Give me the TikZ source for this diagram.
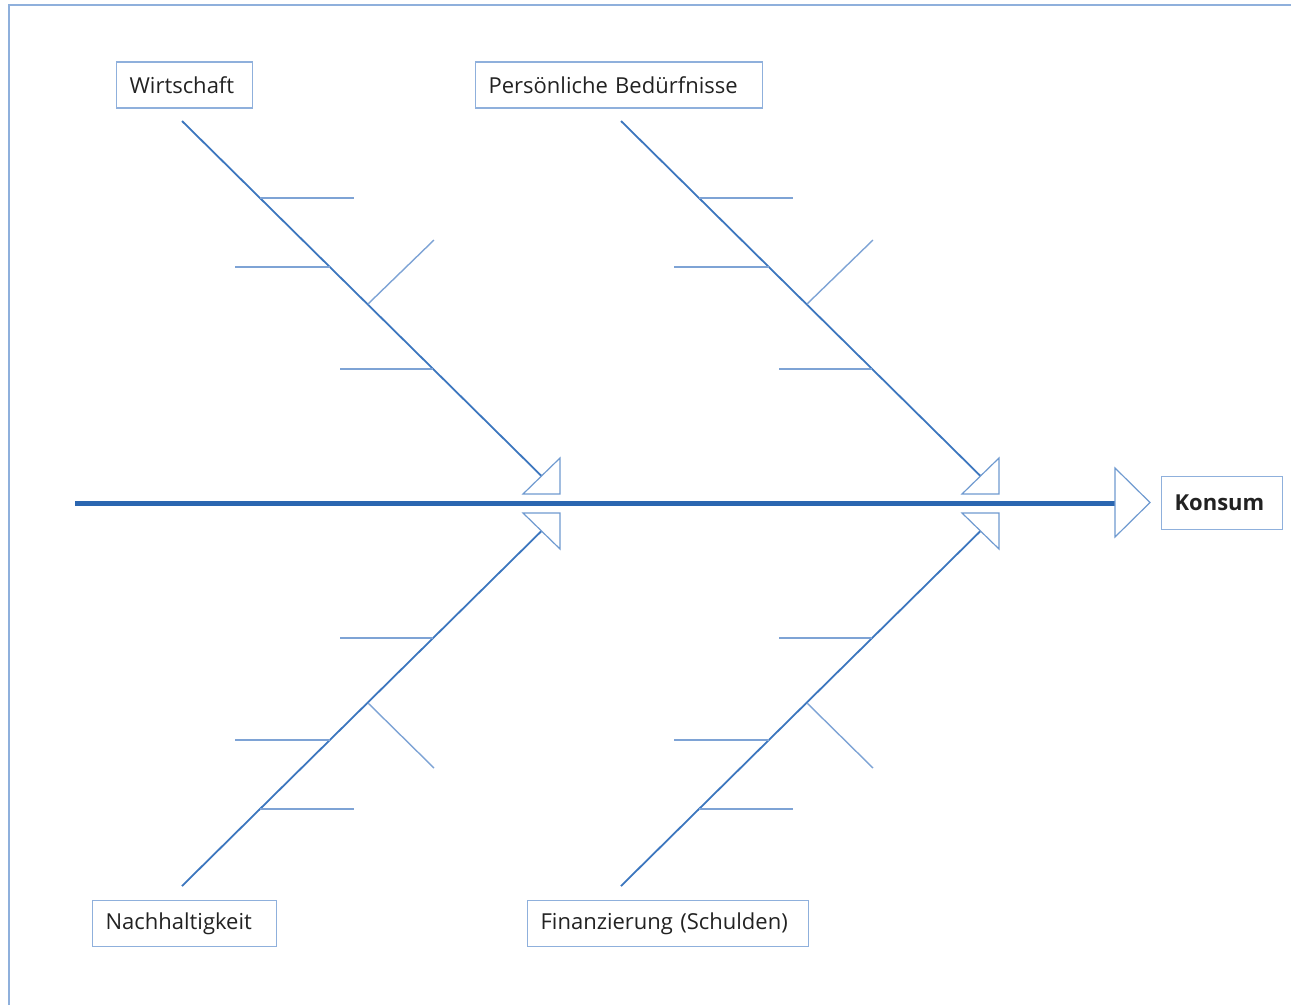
\documentclass[tikz,border=0pt]{standalone}
\usepackage{fontspec}
\setmainfont{Open Sans}
\usetikzlibrary{positioning}
\definecolor{spineblue}{HTML}{2B66B0}
\definecolor{boneblue}{HTML}{3C76BE}
\definecolor{ribblue}{HTML}{7EA3D5}
\definecolor{headblue}{HTML}{6F9AD0}
\definecolor{boxblue}{HTML}{8FB0DC}
\definecolor{textgrey}{HTML}{222222}

\begin{document}
\begin{tikzpicture}[x=1pt,y=-1pt,
 spine/.style ={-,line width=5pt,draw=spineblue},
 bone/.style ={-,line width=1.8pt,draw=boneblue},
 rib/.style ={-,line width=1.4pt,draw=ribblue},
 head/.style ={fill=white,draw=headblue,line width=1.2pt},
 cause/.style ={draw=boxblue,line width=1.2pt,inner xsep=13pt,minimum height=46pt,
   align=left,font=\fontsize{22}{24}\selectfont,text=textgrey}
 ]
\useasboundingbox (0,0) rectangle (1291,1005);
%draw frame
\draw[draw=boxblue,line width=1.2pt] (9,1005) -- (9,5) -- (1291,5);
%draw main spine
\coordinate (tail) at (75,503);
\coordinate (tip) at (1115,503);
\draw[spine] (tail) -- (tip);
\draw[head] (1115,468) -- (1150,502.5) -- (1115,537) -- cycle;
\node[cause,text width=95pt,minimum height=53pt,font=\fontsize{22}{24}\selectfont\bfseries,right=46pt of tip] (konsum) {Konsum};
%draw cause labels
\node[cause,text width=110pt,anchor=west] (wirtschaft) at (116,85) {Wirtschaft};
\node[cause,text width=261pt,anchor=west] (beduerfnisse) at (475,85) {Persönliche Bedürfnisse};
\node[cause,text width=158pt,anchor=west] (nachhaltigkeit) at (92,923.5) {Nachhaltigkeit};
\node[cause,text width=255pt,anchor=west] (finanzierung) at (527,923.5) {Finanzierung (Schulden)};
%draw bones
\coordinate (w0) at (182,121);   \coordinate (w1) at (541.5,476);
\coordinate (b0) at (621,121);   \coordinate (b1) at (980.5,476);
\coordinate (n0) at (182,886);   \coordinate (n1) at (541.5,531);
\coordinate (f0) at (621,886);   \coordinate (f1) at (980.5,531);
\draw[bone] (w0) -- (w1);
\draw[bone] (b0) -- (b1);
\draw[bone] (n0) -- (n1);
\draw[bone] (f0) -- (f1);
%draw ribs and small heads
\foreach \dx in {0,439}{
 \draw[rib] (\dx+260,198) -- (\dx+354,198);
 \draw[rib] (\dx+235,267) -- (\dx+330,267);
 \draw[rib] (\dx+368,304) -- (\dx+434,240);
 \draw[rib] (\dx+340,369) -- (\dx+433,369);
 \draw[rib] (\dx+340,638) -- (\dx+433,638);
 \draw[rib] (\dx+235,740) -- (\dx+330,740);
 \draw[rib] (\dx+368,703) -- (\dx+434,768);
 \draw[rib] (\dx+260,809) -- (\dx+354,809);
 \draw[head] (\dx+523,494) -- (\dx+560,494) -- (\dx+560,458) -- cycle;
 \draw[head] (\dx+523,513) -- (\dx+560,513) -- (\dx+560,549) -- cycle;
}
\end{tikzpicture}
\end{document}
